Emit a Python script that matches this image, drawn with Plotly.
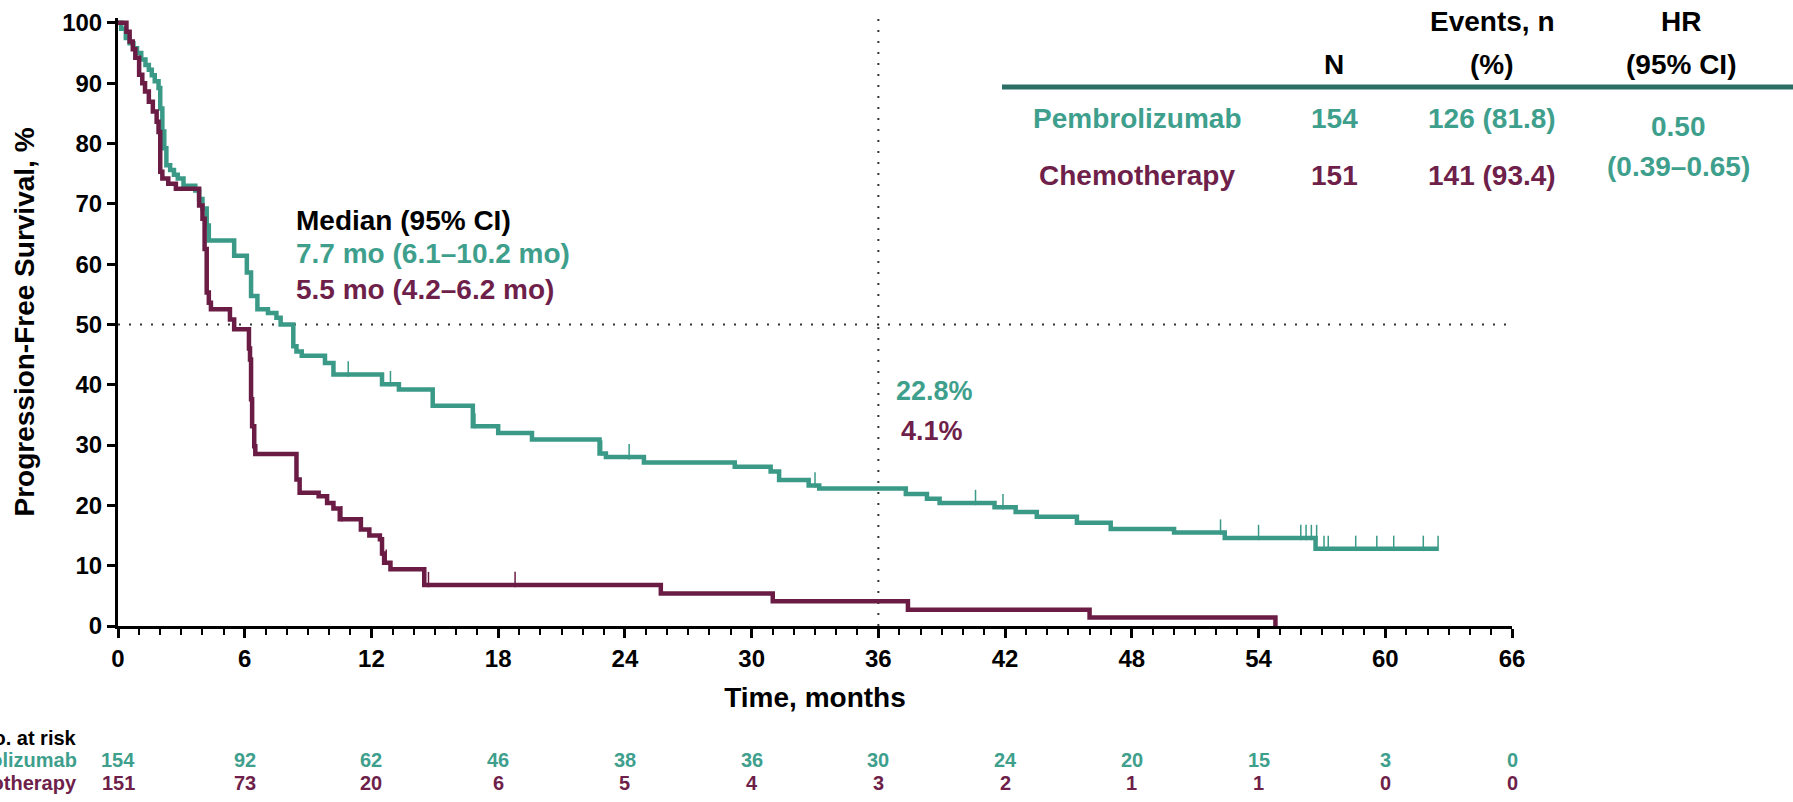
import plotly.graph_objects as go

# ---------------- data ----------------
pem_t = [0, 0.15, 0.37, 0.55, 0.73, 0.9, 1.1, 1.3, 1.46, 1.6, 1.74, 1.92, 2.0, 2.1, 2.19, 2.29,
         2.47, 2.65, 2.83, 3.1, 3.66, 3.84, 4.0, 4.2, 4.3, 5.5, 6.1, 6.3, 6.6, 7.1, 7.5, 7.7,
         8.3, 8.45, 8.7, 9.8, 10.2, 12.5, 13.3, 14.9, 16.8, 18.0, 19.6, 22.8, 23.1, 24.9, 29.2,
         30.9, 31.3, 32.7, 33.2, 37.3, 38.3, 38.9, 41.5, 42.5, 43.5, 45.4, 47.0, 50.0, 52.4,
         56.7, 62.5]
pem_s = [100, 99.0, 97.5, 96.6, 95.8, 95.0, 93.9, 93.0, 92.2, 91.3, 90.3, 89.2, 85.8, 82.0, 79.2, 76.4,
         75.6, 74.8, 74.2, 73.0, 72.2, 70.8, 69.2, 66.4, 63.9, 61.4, 58.6, 54.7, 52.5, 51.9, 51.1, 50.0,
         46.4, 45.5, 44.8, 43.6, 41.7, 40.1, 39.2, 36.5, 33.1, 32.0, 30.9, 28.6, 28.0, 27.1, 26.4,
         25.6, 24.2, 23.3, 22.8, 21.9, 21.1, 20.4, 19.7, 18.9, 18.1, 17.1, 16.1, 15.5, 14.6,
         12.8, 12.8]

chemo_t = [0, 0.4, 0.55, 0.7, 0.82, 1.0, 1.15, 1.28, 1.46, 1.65, 1.83, 1.92, 2.0, 2.1, 2.38, 2.74,
           3.84, 4.0, 4.1, 4.2, 4.3, 4.4, 5.3, 5.5, 6.2, 6.25, 6.3, 6.35, 6.45, 6.5, 8.45, 8.6,
           9.5, 9.9, 10.2, 10.5, 11.5, 11.9, 12.4, 12.5, 12.6, 12.9, 14.5, 25.7, 31.0, 37.4, 46.0, 54.8]
chemo_s = [100, 98.5, 96.9, 95.6, 94.2, 91.4, 90.0, 88.6, 86.9, 85.3, 83.6, 81.9, 75.3, 74.2, 73.3, 72.5,
           69.7, 67.5, 62.5, 55.3, 53.6, 52.5, 50.8, 49.2, 46.0, 44.2, 37.6, 33.1, 29.8, 28.5, 24.3, 22.1,
           21.5, 20.4, 19.5, 17.7, 16.0, 15.0, 14.4, 12.0, 10.5, 9.4, 6.8, 5.4, 4.1, 2.7, 1.4, 0]

pem_cens_t = [0.2, 0.37, 0.55, 0.73, 10.9, 12.9, 16.9, 22.9, 24.2, 33.0, 40.6, 41.9, 52.2, 54.0,
              56.0, 56.25, 56.5, 56.75, 57.1, 57.3, 58.6, 59.6, 60.4, 61.8, 62.5]
pem_cens_s = [100, 100, 100, 100, 41.7, 40.1, 33.1, 28.6, 28.0, 23.3, 20.4, 19.7, 15.5, 14.6,
              14.6, 14.6, 14.6, 14.6, 12.8, 12.8, 12.8, 12.8, 12.8, 12.8, 12.8]
chemo_cens_t = [10.6, 12.5, 12.7, 14.7, 18.8]
chemo_cens_s = [17.7, 12.0, 10.5, 6.8, 6.8]

risk_times = [0, 6, 12, 18, 24, 30, 36, 42, 48, 54, 60, 66]
risk_pem = [154, 92, 62, 46, 38, 36, 30, 24, 20, 15, 3, 0]
risk_chemo = [151, 73, 20, 6, 5, 4, 3, 2, 1, 1, 0, 0]

x_ticks = [0, 6, 12, 18, 24, 30, 36, 42, 48, 54, 60, 66]
y_ticks = [0, 10, 20, 30, 40, 50, 60, 70, 80, 90, 100]

groups = ["Pembrolizumab", "Chemotherapy"]
group_n = ["154", "151"]
group_events = ["126 (81.8)", "141 (93.4)"]
hr_text = ["0.50", "(0.39–0.65)"]
median_title = "Median (95% CI)"
median_texts = ["7.7 mo (6.1–10.2 mo)", "5.5 mo (4.2–6.2 mo)"]
landmark_month = 36
landmark_texts = ["22.8%", "4.1%"]

# ---------------- style ----------------
TEAL = "#3a9a87"
TEAL_TXT = "#3f9f8d"
PURPLE = "#6a1c45"
PURPLE_TXT = "#6e1f4a"
LINE_TEAL = "#2b6e66"
FONT = "Liberation Sans, Arial, sans-serif"

W, H = 1793, 802
L, R, T, B = 118, 281, 18, 176
PW, PH = W - L - R, H - T - B


def px(x):
    return (x - L) / PW


def py(y):
    return (H - B - y) / PH


fig = go.Figure()

fig.add_trace(go.Scatter(x=pem_t, y=pem_s, mode="lines", line=dict(color=TEAL, width=4.5, shape="hv"),
                         showlegend=False, hoverinfo="skip"))
fig.add_trace(go.Scatter(x=chemo_t, y=chemo_s, mode="lines", line=dict(color=PURPLE, width=4.5, shape="hv"),
                         showlegend=False, hoverinfo="skip"))

CENS_OFF = 0.9
fig.add_trace(go.Scatter(x=pem_cens_t, y=[v + CENS_OFF for v in pem_cens_s], mode="markers",
                         marker=dict(symbol="line-ns", size=11, line=dict(color=TEAL, width=1.5)),
                         showlegend=False, hoverinfo="skip", cliponaxis=False))
fig.add_trace(go.Scatter(x=chemo_cens_t, y=[v + CENS_OFF for v in chemo_cens_s], mode="markers",
                         marker=dict(symbol="line-ns", size=11, line=dict(color=PURPLE, width=1.5)),
                         showlegend=False, hoverinfo="skip", cliponaxis=False))

# reference lines
fig.add_shape(type="line", xref="x", yref="y", x0=0, x1=66, y0=50, y1=50,
              line=dict(color="#333333", width=2, dash="2px,9px"), layer="below")
fig.add_shape(type="line", xref="x", yref="paper", x0=landmark_month, x1=landmark_month, y0=0, y1=1.005,
              line=dict(color="#333333", width=2, dash="2px,9px"), layer="below")

ann = []
big = 28
# median block
ann.append(dict(text=median_title, x=px(295), y=py(220), xanchor="left", yanchor="middle",
                font=dict(color="black", size=big)))
ann.append(dict(text=median_texts[0], x=px(295), y=py(253), xanchor="left", yanchor="middle",
                font=dict(color=TEAL_TXT, size=big)))
ann.append(dict(text=median_texts[1], x=px(295), y=py(289), xanchor="left", yanchor="middle",
                font=dict(color=PURPLE_TXT, size=big)))
# landmark values
ann.append(dict(text=landmark_texts[0], x=px(934), y=py(391), xanchor="center", yanchor="middle",
                font=dict(color=TEAL_TXT, size=27)))
ann.append(dict(text=landmark_texts[1], x=px(932), y=py(431), xanchor="center", yanchor="middle",
                font=dict(color=PURPLE_TXT, size=27)))
# table header
for txt, cx, cy in [("N", 1334, 65), ("Events, n", 1492, 21), ("(%)", 1492, 65),
                    ("HR", 1681, 21), ("(95% CI)", 1681, 65)]:
    ann.append(dict(text=txt, x=px(cx), y=py(cy), xanchor="center", yanchor="middle",
                    font=dict(color="black", size=big)))
row_y = [118, 175]
row_col = [TEAL_TXT, PURPLE_TXT]
for i in range(2):
    ann.append(dict(text=groups[i], x=px(1137), y=py(row_y[i]), xanchor="center", yanchor="middle",
                    font=dict(color=row_col[i], size=big)))
    ann.append(dict(text=group_n[i], x=px(1334), y=py(row_y[i]), xanchor="center", yanchor="middle",
                    font=dict(color=row_col[i], size=big)))
    ann.append(dict(text=group_events[i], x=px(1492), y=py(row_y[i]), xanchor="center", yanchor="middle",
                    font=dict(color=row_col[i], size=big)))
ann.append(dict(text=hr_text[0], x=px(1678), y=py(126), xanchor="center", yanchor="middle",
                font=dict(color=TEAL_TXT, size=big)))
ann.append(dict(text=hr_text[1], x=px(1678), y=py(167), xanchor="center", yanchor="middle",
                font=dict(color=TEAL_TXT, size=big)))

# at-risk table
small = 20
ann.append(dict(text="No. at risk", x=px(78), y=py(738), xanchor="right", yanchor="middle",
                font=dict(color="black", size=small)))
ann.append(dict(text=groups[0], x=px(78), y=py(760), xanchor="right", yanchor="middle",
                font=dict(color=TEAL_TXT, size=small)))
ann.append(dict(text=groups[1], x=px(78), y=py(783), xanchor="right", yanchor="middle",
                font=dict(color=PURPLE_TXT, size=small)))
for t, a, b in zip(risk_times, risk_pem, risk_chemo):
    ann.append(dict(text=str(a), x=t, xref="x", y=py(760), yref="paper", xanchor="center",
                    yanchor="middle", font=dict(color=TEAL_TXT, size=small)))
    ann.append(dict(text=str(b), x=t, xref="x", y=py(783), yref="paper", xanchor="center",
                    yanchor="middle", font=dict(color=PURPLE_TXT, size=small)))

for a in ann:
    a.setdefault("xref", "paper")
    a.setdefault("yref", "paper")
    a["showarrow"] = False
    a["borderpad"] = 0
    a["font"]["family"] = FONT
    a["font"]["weight"] = "bold"

fig.add_shape(type="line", xref="paper", yref="paper", x0=px(1002), x1=px(1800), y0=py(87), y1=py(87),
              line=dict(color=LINE_TEAL, width=5))

fig.update_layout(
    width=W, height=H,
    margin=dict(l=L, r=R, t=T, b=B, autoexpand=False),
    paper_bgcolor="white", plot_bgcolor="white",
    annotations=ann,
    font=dict(family=FONT, color="black"),
)

fig.update_xaxes(
    range=[0, 66], tickmode="array", tickvals=x_ticks, ticks="outside", ticklen=9, tickwidth=2.5,
    tickcolor="black", showline=True, linewidth=3, linecolor="black", showgrid=False, zeroline=False,
    minor=dict(tick0=0, dtick=1, ticks="outside", ticklen=6, tickwidth=2, tickcolor="black", showgrid=False),
    tickfont=dict(family=FONT, size=24, color="black", weight="bold"), ticklabelstandoff=0,
    title=dict(text="Time, months", font=dict(family=FONT, size=28, color="black", weight="bold"), standoff=17),
    automargin=False,
)
fig.update_yaxes(
    range=[0, 100.8], tickmode="array", tickvals=y_ticks, ticks="outside", ticklen=8, tickwidth=2.5,
    tickcolor="black", showline=True, linewidth=3, linecolor="black", showgrid=False, zeroline=False,
    tickfont=dict(family=FONT, size=24, color="black", weight="bold"), ticklabelstandoff=0,
    title=dict(text="Progression-Free Survival, %", font=dict(family=FONT, size=28, color="black", weight="bold"),
               standoff=20),
    automargin=False,
)

fig.write_html("out.html")
